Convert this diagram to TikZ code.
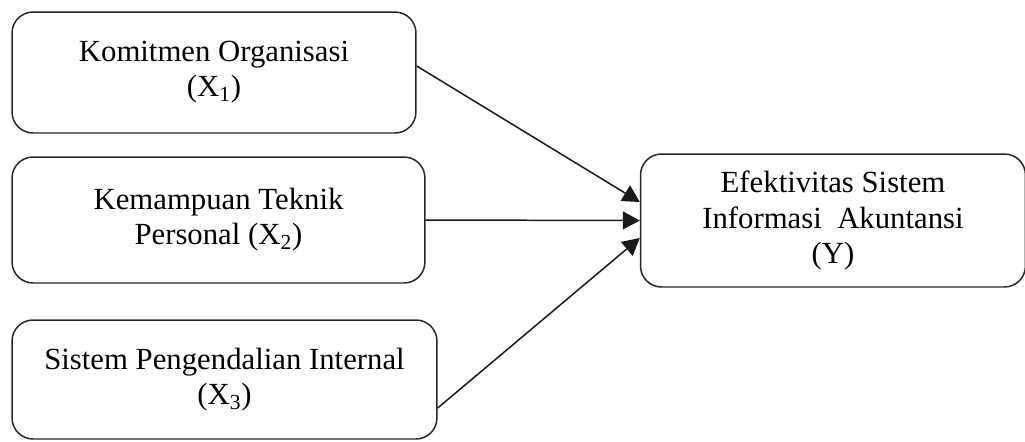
\documentclass[tikz,border=0pt]{standalone}
\usepackage{fontspec}
\setmainfont{Liberation Serif}
\usepackage{tikz}
\usetikzlibrary{arrows.meta}

\begin{document}
\begin{tikzpicture}[x=0.02cm,y=-0.02cm,
	var/.style={draw=black!85,line width=0.85pt,rounded corners=0.42cm,align=center,
		font=\fontsize{17.5}{20}\selectfont,inner sep=0pt},
	arr/.style={draw=black!90,line width=0.85pt,-{Triangle[length=3.4mm,width=3.6mm]}}]
	\useasboundingbox (0,0) rectangle (1025,441);

	\node[var,minimum width=8.08cm,minimum height=2.42cm] (kom) at (214,72.5) {Komitmen Organisasi\\(X\textsubscript{1})};
	\node[var,minimum width=8.26cm,minimum height=2.52cm] (kem) at (218.5,220) {Kemampuan Teknik\\Personal (X\textsubscript{2})};
	\node[var,minimum width=8.5cm,minimum height=2.38cm] (spi) at (224.5,379.5) {Sistem Pengendalian Internal\\(X\textsubscript{3})};

	\node[var,minimum width=7.7cm,minimum height=2.66cm] (efek) at (833,220.5) {Efektivitas Sistem\\Informasi\ \ Akuntansi\\(Y)};

	\draw[arr] ([yshift=0.13cm]kom.east) -- ([yshift=0.37cm]efek.west);
	\draw[arr] (kem.east) -- (efek.west);
	\draw[arr] ([yshift=-0.57cm]spi.east) -- ([yshift=-0.35cm]efek.west);
\end{tikzpicture}
\end{document}
